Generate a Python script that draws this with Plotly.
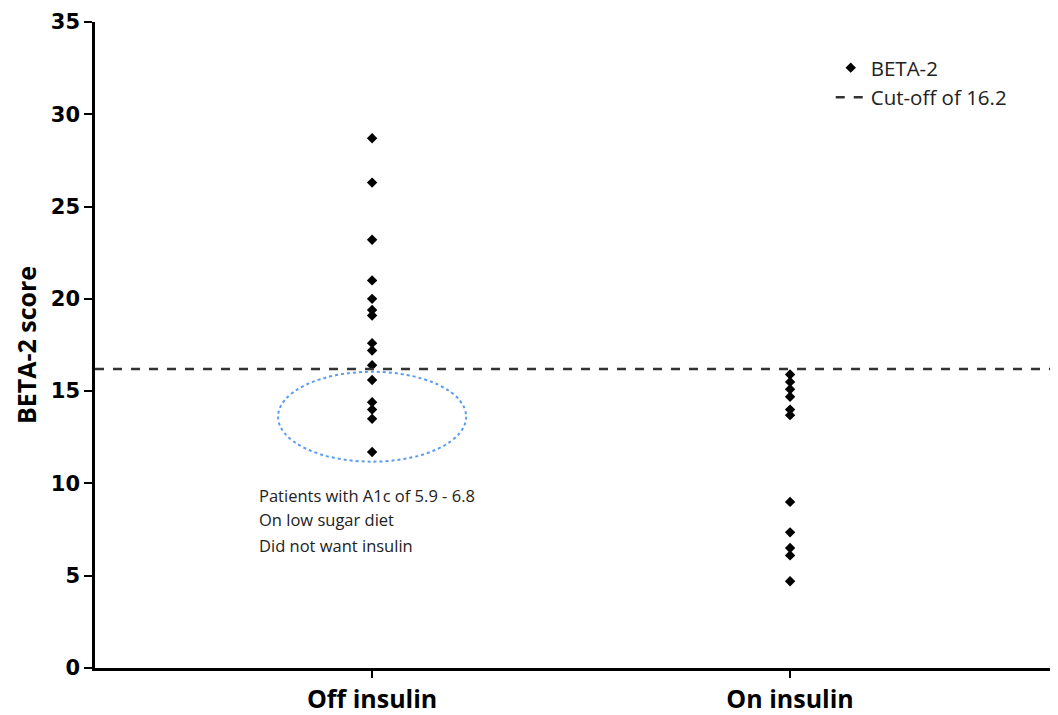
import plotly.graph_objects as go

categories = ["Off insulin", "On insulin"]
off_insulin = [28.7, 26.3, 23.2, 21.0, 20.0, 19.4, 19.1, 17.6, 17.2, 16.4, 15.6, 14.4, 14.0, 13.5, 11.7]
on_insulin = [15.9, 15.5, 15.1, 14.7, 14.0, 13.7, 9.0, 7.35, 6.5, 6.1, 4.7]
cutoff = 16.2
y_ticks = [0, 5, 10, 15, 20, 25, 30, 35]
note_lines = ["Patients with A1c of 5.9 - 6.8", "On low sugar diet", "Did not want insulin"]
note_y = [9.35, 8.05, 6.65]

x_range = [-0.663, 1.641]

xs = [0] * len(off_insulin) + [1] * len(on_insulin)
ys = off_insulin + on_insulin

fig = go.Figure()
fig.add_trace(go.Scatter(
    x=xs, y=ys, mode="markers", name="BETA-2",
    marker=dict(symbol="diamond", size=8, color="black"),
))
fig.add_trace(go.Scatter(
    x=x_range, y=[cutoff, cutoff], mode="lines", name="Cut-off of 16.2",
    line=dict(color="#333333", width=2.5, dash="dash"),
))

fig.add_shape(type="circle", xref="x", yref="y",
              x0=-0.225, x1=0.225, y0=11.18, y1=16.05,
              line=dict(color="#5a9cf0", width=2, dash="dot"))

for line_text, ly in zip(note_lines, note_y):
    fig.add_annotation(x=-0.275, y=ly, xref="x", yref="y", xanchor="left", yanchor="middle",
                       text=line_text, showarrow=False, align="left",
                       font=dict(family="Open Sans", size=16.5, color="#222222"))

fig.update_layout(
    width=1050, height=707,
    margin=dict(l=87, r=0, t=14, b=45),
    plot_bgcolor="white", paper_bgcolor="white",
    showlegend=True,
    legend=dict(x=0.764, y=0.96, xanchor="left", yanchor="top",
                font=dict(family="Open Sans", size=20.5, color="#222222"),
                bgcolor="rgba(0,0,0,0)", itemwidth=30),
    xaxis=dict(range=x_range, tickvals=[0, 1], ticktext=categories,
               showgrid=False, zeroline=False, showline=True, linecolor="black", linewidth=2.5,
               ticks="outside", ticklen=7, tickwidth=2, tickcolor="black",
               tickfont=dict(family="Open Sans", size=25, color="black", weight="bold")),
    yaxis=dict(range=[0, 35], tickvals=y_ticks,
               showgrid=False, zeroline=False, showline=True, linecolor="black", linewidth=2.5,
               ticks="outside", ticklen=8, tickwidth=2, tickcolor="black",
               tickfont=dict(family="DejaVu Sans", size=21, color="black", weight="bold"),
               title=dict(text="BETA-2 score", standoff=8,
                          font=dict(family="Open Sans", size=25, color="black", weight="bold"))),
)

fig.write_html("out.html")
